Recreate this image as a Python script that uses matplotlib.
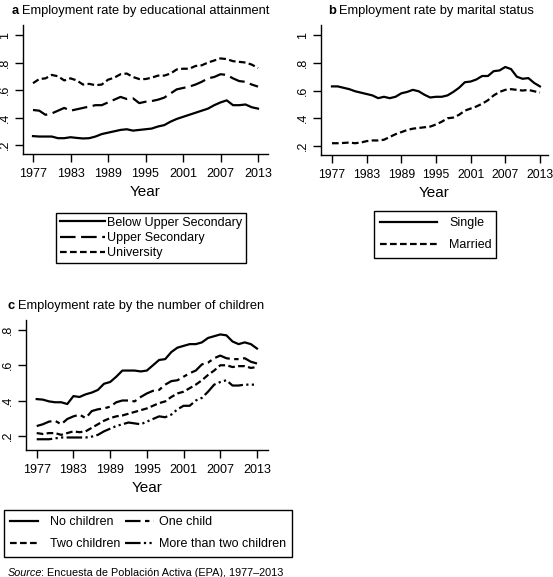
import numpy as np
import matplotlib
matplotlib.use("Agg")
import matplotlib.pyplot as plt
from matplotlib.patches import Rectangle

plt.rcParams["font.family"] = ["Liberation Sans", "DejaVu Sans"]

# -- data
years = np.arange(1977, 2014)

below_upper = [.265, .262, .262, .262, .250, .250, .257, .252, .248, .250,
               .262, .280, .290, .300, .310, .315, .305, .310, .315, .320,
               .335, .345, .370, .390, .405, .420, .435, .450, .465, .490,
               .510, .525, .490, .490, .495, .475, .465]
upper_sec = [.455, .450, .420, .430, .450, .470, .450, .460, .470, .480,
             .490, .490, .510, .530, .550, .535, .540, .505, .515, .520,
             .530, .545, .575, .605, .615, .625, .640, .660, .685, .695,
             .715, .710, .685, .665, .660, .640, .625]
university = [.650, .680, .685, .710, .700, .670, .685, .670, .640, .645,
              .635, .640, .675, .690, .715, .720, .695, .680, .680, .690,
              .705, .705, .720, .750, .755, .755, .775, .780, .800, .815,
              .830, .825, .810, .805, .800, .785, .760]

single = [.630, .630, .620, .610, .595, .585, .575, .565, .545, .555,
          .545, .555, .580, .590, .605, .595, .570, .550, .555, .555,
          .565, .590, .620, .660, .665, .680, .705, .705, .740, .745,
          .770, .755, .700, .685, .690, .655, .630]
married = [.220, .220, .222, .225, .220, .225, .235, .240, .240, .245,
           .265, .285, .300, .315, .325, .330, .335, .340, .355, .375,
           .400, .405, .425, .455, .470, .485, .505, .530, .565, .590,
           .605, .610, .605, .600, .605, .595, .585]

no_children = [.408, .405, .395, .390, .390, .380, .425, .420, .435, .445,
               .460, .495, .505, .535, .570, .570, .570, .565, .570, .600,
               .630, .635, .675, .700, .710, .720, .720, .730, .755, .765,
               .775, .770, .735, .720, .730, .720, .695]
one_child = [.255, .265, .280, .285, .265, .295, .310, .320, .300, .340,
             .350, .355, .365, .390, .400, .400, .395, .420, .440, .455,
             .460, .490, .510, .515, .535, .555, .570, .605, .615, .640,
             .655, .640, .635, .635, .640, .620, .610]
two_children = [.215, .210, .215, .215, .205, .215, .225, .220, .225, .245,
                .265, .285, .300, .310, .315, .325, .335, .345, .355, .370,
                .385, .395, .420, .440, .450, .470, .490, .515, .545, .570,
                .600, .600, .590, .595, .595, .585, .590]
more_children = [.180, .180, .180, .185, .190, .190, .190, .190, .190, .195,
                 .205, .225, .240, .255, .265, .275, .270, .265, .280, .295,
                 .310, .305, .320, .350, .370, .370, .400, .415, .450, .490,
                 .505, .515, .485, .485, .490, .490, .490]

xticks = [1977, 1983, 1989, 1995, 2001, 2007, 2013]

# -- line styles
lw = 1.6
ls_solid = "-"
ls_long = (0, (7, 2.5))
ls_short = (0, (3, 1.5))
ls_longshort = (0, (7, 2, 2, 2))
ls_longdots = (0, (7, 1.5, 1, 1.5, 1, 1.5))

W, H = 553, 577
fig = plt.figure(figsize=(W / 100, H / 100), dpi=100)


def px_axes(x0, y0, x1, y1):
    return fig.add_axes([x0 / W, 1 - y1 / H, (x1 - x0) / W, (y1 - y0) / H])


def style(ax, xlim, ylim, yticks, ylabels):
    ax.set_xlim(*xlim)
    ax.set_ylim(*ylim)
    for s in ["top", "right"]:
        ax.spines[s].set_visible(False)
    for s in ["left", "bottom"]:
        ax.spines[s].set_linewidth(1.0)
    ax.set_xticks(xticks)
    ax.set_xticklabels([str(t) for t in xticks], fontsize=9)
    ax.set_yticks(yticks)
    ax.set_yticklabels(ylabels, fontsize=9, rotation=90, va="center")
    ax.tick_params(direction="out", length=5.5, width=1.0, pad=3)
    ax.tick_params(axis="x", pad=4.5)
    ax.set_xlabel("Year", fontsize=11, labelpad=4)


def title(x, y, letter, text):
    t = fig.text(x / W, 1 - y / H, letter, fontsize=9.3, fontweight="bold",
                 va="baseline", ha="left")
    fig.canvas.draw()
    bb = t.get_window_extent()
    fig.text((bb.x1 + 3) / W, 1 - y / H, text, fontsize=9.3,
             va="baseline", ha="left")


def legend(handles, x0, y0, x1, y1, ncol, frame=True, **kw):
    leg = fig.legend(handles=handles, loc="upper left",
                     bbox_to_anchor=(x0 / W, 1 - y1 / H, (x1 - x0) / W, (y1 - y0) / H),
                     mode="expand", ncol=ncol, fontsize=9, frameon=frame,
                     fancybox=False, edgecolor="black", framealpha=1,
                     borderaxespad=0, **kw)
    if frame:
        leg.get_frame().set_linewidth(1.0)
    return leg


def box(x0, y0, x1, y1):
    fig.patches.append(Rectangle((x0 / W, 1 - y1 / H), (x1 - x0) / W, (y1 - y0) / H,
                                 transform=fig.transFigure, fill=False,
                                 edgecolor="black", lw=1.0))


# -- panel a
ax_a = px_axes(23, 25, 268, 154)
la = ax_a.plot(years, below_upper, color="k", lw=lw, ls=ls_solid, label="Below Upper Secondary")
la += ax_a.plot(years, upper_sec, color="k", lw=lw, ls=ls_long, label="Upper Secondary")
la += ax_a.plot(years, university, color="k", lw=lw, ls=ls_short, label="University")
style(ax_a, (1975.4, 2014.6), (0.135, 1.073), [.2, .4, .6, .8, 1],
      [".2", ".4", ".6", ".8", "1"])
title(12, 14, "a", "Employment rate by educational attainment")
legend(la, 56, 213, 246, 273, 1, handlelength=3.6, handletextpad=0.2,
       labelspacing=0.25, borderpad=0.3)

# -- panel b
ax_b = px_axes(321, 25, 548, 155)
lb = ax_b.plot(years, single, color="k", lw=lw, ls=ls_solid, label="Single")
lb += ax_b.plot(years, married, color="k", lw=lw, ls=ls_short, label="Married")
style(ax_b, (1975.1, 2014.4), (0.135, 1.073), [.2, .4, .6, .8, 1],
      [".2", ".4", ".6", ".8", "1"])
ax_b.tick_params(axis="x", labelsize=8.8)
title(328, 14, "b", "Employment rate by marital status")
legend(lb, 374, 211, 496, 257, 1, handlelength=4.5, handletextpad=1.0,
       labelspacing=0.8, borderpad=0.5)

# -- panel c
ax_c = px_axes(26, 320, 268, 450)
lc = ax_c.plot(years, no_children, color="k", lw=lw, ls=ls_solid, label="No children")
lc += ax_c.plot(years, one_child, color="k", lw=lw, ls=ls_longshort, label="One child")
lc += ax_c.plot(years, two_children, color="k", lw=lw, ls=ls_short, label="Two children")
lc += ax_c.plot(years, more_children, color="k", lw=lw, ls=ls_longdots, label="More than two children")
style(ax_c, (1975.25, 2014.8), (0.119, 0.857), [.2, .4, .6, .8],
      [".2", ".4", ".6", ".8"])
title(8, 309, "c", "Employment rate by the number of children")
box(4, 510, 292, 557)
legend([lc[0], lc[2]], 4, 510, 120, 557, 1, frame=False, handlelength=2.2,
       handletextpad=1.0, labelspacing=0.8, borderpad=0.5)
legend([lc[1], lc[3]], 119, 510, 292, 557, 1, frame=False, handlelength=2.3,
       handletextpad=0.4, labelspacing=0.8, borderpad=0.5)

# -- source note
src = fig.text(8 / W, 1 - 576 / H, "Source", fontsize=7.8, style="italic",
               va="baseline", ha="left")
fig.canvas.draw()
bb = src.get_window_extent()
fig.text((bb.x1 - 1.5) / W, 1 - 576 / H, ": Encuesta de Población Activa (EPA), 1977–2013",
         fontsize=7.8, va="baseline", ha="left")

fig.savefig("out.png", dpi=100)
